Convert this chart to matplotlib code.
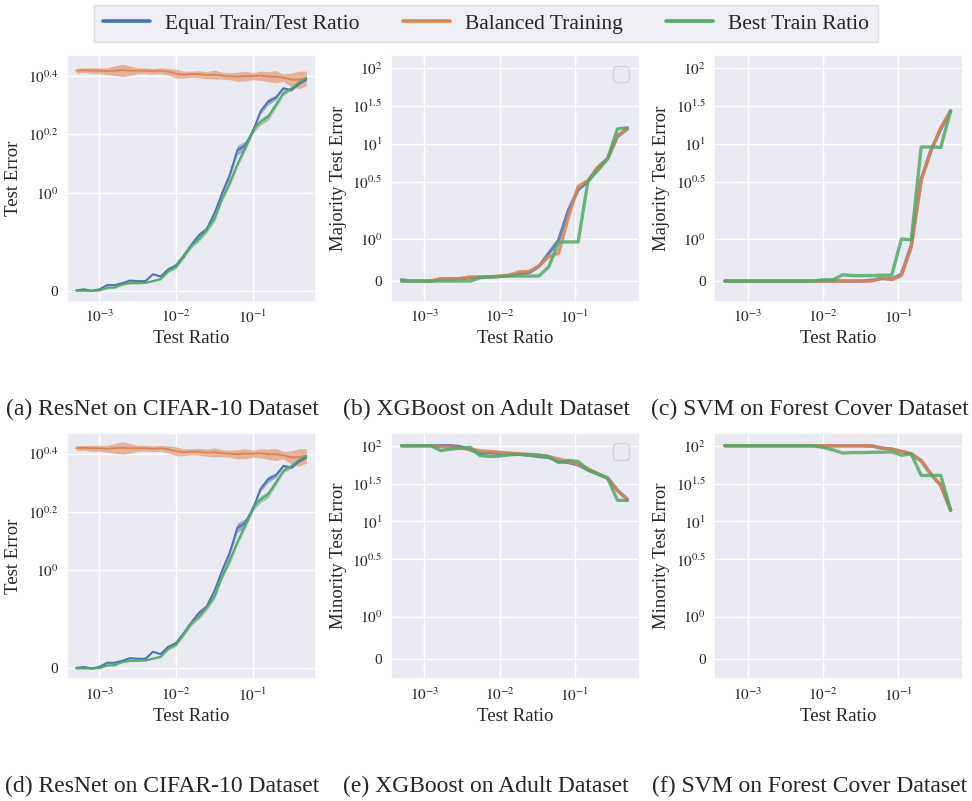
import matplotlib
matplotlib.use("Agg")
import numpy as np
import matplotlib.pyplot as plt
from matplotlib.lines import Line2D
import seaborn as sns

sns.set_theme(style="darkgrid")
plt.rcParams["font.family"] = ["Liberation Serif", "DejaVu Serif"]
plt.rcParams["mathtext.fontset"] = "stix"

COLORS = ["#4C72B0", "#DD8452", "#55A868"]
SERIES = ["Equal Train/Test Ratio", "Balanced Training", "Best Train Ratio"]

# --- ResNet on CIFAR-10 (mean test error + half width of the CI band) ---
resnet_ratio = [0.0005, 0.00063, 0.00079, 0.001, 0.00126, 0.00158, 0.002, 0.0025,
                0.0032, 0.004, 0.005, 0.0063, 0.0079, 0.01, 0.0126, 0.0158, 0.02,
                0.025, 0.032, 0.04, 0.05, 0.063, 0.079, 0.1, 0.126, 0.158, 0.2,
                0.25, 0.32, 0.4, 0.5]
resnet_equal = [0.005, 0.015, 0.0, 0.015, 0.058, 0.058, 0.078, 0.105, 0.099, 0.099,
                0.17, 0.146, 0.22, 0.26, 0.36, 0.47, 0.57, 0.63, 0.8, 1.0, 1.15,
                1.4, 1.45, 1.62, 1.9, 2.05, 2.12, 2.28, 2.25, 2.36, 2.44]
resnet_balanced = [2.62, 2.63, 2.62, 2.62, 2.61, 2.62, 2.63, 2.62, 2.62, 2.62, 2.61,
                   2.62, 2.6, 2.56, 2.54, 2.55, 2.55, 2.53, 2.54, 2.52, 2.51, 2.5,
                   2.51, 2.51, 2.52, 2.5, 2.5, 2.48, 2.44, 2.44, 2.47]
resnet_best = [0.0, 0.0, 0.0, 0.003, 0.03, 0.034, 0.065, 0.078, 0.078, 0.082, 0.1,
               0.12, 0.2, 0.245, 0.35, 0.46, 0.53, 0.62, 0.74, 0.94, 1.08, 1.25,
               1.42, 1.64, 1.75, 1.82, 2.0, 2.19, 2.28, 2.39, 2.47]
resnet_equal_ci = [0.01, 0.01, 0.01, 0.01, 0.01, 0.01, 0.01, 0.01, 0.01, 0.01, 0.01,
                   0.01, 0.01, 0.02, 0.02, 0.02, 0.02, 0.02, 0.02, 0.03, 0.03, 0.05,
                   0.05, 0.03, 0.04, 0.05, 0.04, 0.03, 0.02, 0.02, 0.02]
resnet_balanced_ci = [0.05, 0.05, 0.06, 0.06, 0.07, 0.1, 0.13, 0.1, 0.06, 0.06, 0.06,
                      0.06, 0.07, 0.09, 0.07, 0.06, 0.07, 0.07, 0.09, 0.07, 0.07, 0.09,
                      0.1, 0.07, 0.09, 0.1, 0.12, 0.07, 0.13, 0.17, 0.14]
resnet_best_ci = [0.008, 0.008, 0.008, 0.008, 0.01, 0.01, 0.01, 0.01, 0.01, 0.01, 0.01,
                  0.012, 0.015, 0.02, 0.02, 0.025, 0.025, 0.03, 0.03, 0.025, 0.03, 0.03,
                  0.035, 0.04, 0.045, 0.05, 0.05, 0.04, 0.03, 0.02, 0.02]

# --- XGBoost (Adult) and SVM (Forest Cover): majority / minority test error ---
tab_ratio = [0.0005, 0.00068, 0.00091, 0.00123, 0.00166, 0.00224, 0.00303, 0.00409,
             0.00552, 0.00746, 0.0101, 0.0136, 0.0184, 0.0248, 0.0335, 0.0452, 0.061,
             0.0824, 0.111, 0.15, 0.203, 0.274, 0.37, 0.5]

adult_maj_equal = [0.03, 0.0, 0.0, 0.0, 0.05, 0.05, 0.06, 0.08, 0.09, 0.1, 0.11, 0.13,
                   0.18, 0.2, 0.35, 0.66, 0.97, 1.68, 2.49, 3.2, 4.9, 6.4, 12.5, 15.8]
adult_maj_balanced = [0.0, 0.0, 0.0, 0.0, 0.06, 0.04, 0.06, 0.1, 0.1, 0.1, 0.12, 0.14,
                      0.22, 0.23, 0.36, 0.58, 0.66, 1.52, 2.76, 3.28, 4.95, 6.4, 12.9, 15.8]
adult_maj_best = [0.0, 0.0, 0.0, 0.0, 0.0, 0.0, 0.0, 0.0, 0.08, 0.1, 0.11, 0.12, 0.12,
                  0.12, 0.12, 0.34, 0.93, 0.93, 0.93, 3.24, 4.47, 6.4, 15.8, 16.3]

svm_maj_equal = [0.0, 0.0, 0.0, 0.0, 0.0, 0.0, 0.0, 0.0, 0.0, 0.0, 0.0, 0.0, 0.0, 0.0,
                 0.0, 0.02, 0.06, 0.05, 0.16, 0.85, 3.4, 8.3, 15.7, 27.3]
svm_maj_balanced = [0.0, 0.0, 0.0, 0.0, 0.0, 0.0, 0.0, 0.0, 0.0, 0.0, 0.0, 0.0, 0.0, 0.0,
                    0.0, 0.0, 0.08, 0.03, 0.13, 0.8, 3.27, 8.1, 16.4, 27.3]
svm_maj_best = [0.0, 0.0, 0.0, 0.0, 0.0, 0.0, 0.0, 0.0, 0.0, 0.0, 0.03, 0.03, 0.15, 0.13,
                0.13, 0.13, 0.14, 0.14, 1.0, 0.98, 9.1, 9.1, 9.0, 27.3]

adult_min_equal = [100, 100, 100, 100, 100, 100, 97, 88, 79, 81, 79, 78, 77, 75, 72,
                   70, 62, 60, 56, 48, 42, 37.4, 25.8, 19.5]
adult_min_balanced = [100, 100, 100, 100, 97, 95, 92, 90, 86, 84, 82, 80, 78, 77, 75,
                      72, 67, 62, 57.5, 50, 42.6, 37.4, 25.8, 19.5]
adult_min_best = [100, 100, 100, 100, 86, 90, 93, 95, 74, 72, 73, 76, 77, 76, 75, 72,
                  60, 64, 62, 48, 42.6, 37.4, 19, 19]

svm_min_equal = [100, 100, 100, 100, 100, 100, 100, 100, 100, 100, 100, 100, 100, 100,
                 100, 99, 93, 90, 84, 78, 63, 42, 30, 14.1]
svm_min_balanced = [100, 100, 100, 100, 100, 100, 100, 100, 100, 100, 100, 100, 100, 100,
                    100, 100, 93, 90, 84, 78, 63.6, 42.5, 30, 14.1]
svm_min_best = [100, 100, 100, 100, 100, 100, 100, 100, 100, 100, 95, 88, 80, 81, 81, 82,
                82, 83, 75, 78, 40.5, 40.5, 40.5, 14.1]

captions = ["(a) ResNet on CIFAR-10 Dataset", "(b) XGBoost on Adult Dataset",
            "(c) SVM on Forest Cover Dataset", "(d) ResNet on CIFAR-10 Dataset",
            "(e) XGBoost on Adult Dataset", "(f) SVM on Forest Cover Dataset"]

resnet_ticks = [0, 1, 10 ** 0.2, 10 ** 0.4]
resnet_ticklabels = ["0", "$10^{0}$", "$10^{0.2}$", "$10^{0.4}$"]
tab_ticks = [0, 1, 10 ** 0.5, 10, 10 ** 1.5, 100]
tab_ticklabels = ["0", "$10^{0}$", "$10^{0.5}$", "$10^{1}$", "$10^{1.5}$", "$10^{2}$"]

LABEL_FS = 13.5
TICK_FS = 11

fig = plt.figure(figsize=(9.72, 8.01), dpi=100)
lefts = [66.7 / 972, 390.7 / 972, 714 / 972]
bottoms = [(801 - 301.7) / 801, (801 - 679.3) / 801]
w, h = 249 / 972, 246.5 / 801

axes = [[fig.add_axes([l, b, w, h]) for l in lefts] for b in bottoms]


def style_common(ax, ylabel):
    ax.set_xscale("log")
    ax.set_xticks([1e-3, 1e-2, 1e-1])
    ax.set_xticklabels(["$10^{-3}$", "$10^{-2}$", "$10^{-1}$"])
    ax.xaxis.set_minor_locator(matplotlib.ticker.NullLocator())
    ax.set_xlabel("Test Ratio", fontsize=LABEL_FS, labelpad=3)
    ax.set_ylabel(ylabel, fontsize=LABEL_FS, labelpad=4)
    ax.tick_params(axis="x", labelsize=TICK_FS, pad=5, length=0)
    ax.tick_params(axis="y", labelsize=TICK_FS, pad=6, length=0)


def resnet_panel(ax):
    ys = [resnet_equal, resnet_balanced, resnet_best]
    cis = [resnet_equal_ci, resnet_balanced_ci, resnet_best_ci]
    x = np.array(resnet_ratio)
    for y, e, c in zip(ys, cis, COLORS):
        y, e = np.array(y), np.array(e)
        ax.fill_between(x, y - e, y + e, color=c, alpha=0.55, lw=0)
        ax.plot(x, y, color=c, lw=1.3)
    ax.set_yscale("symlog", linthresh=1, linscale=0.302)
    ax.set_yticks(resnet_ticks)
    ax.set_yticklabels(resnet_ticklabels)
    ax.yaxis.set_minor_locator(matplotlib.ticker.NullLocator())
    ax.set_ylim(-0.112, 2.96)
    ax.set_xlim(3.76e-4, 0.662)
    style_common(ax, "Test Error")


def tab_panel(ax, ys, ylabel, empty_legend=False):
    x = np.array(tab_ratio)
    for y, c in zip(ys, COLORS):
        ax.plot(x, y, color=c, lw=2.4, alpha=0.85)
    ax.set_yscale("symlog", linthresh=2, linscale=1)
    ax.set_yticks(tab_ticks)
    ax.set_yticklabels(tab_ticklabels)
    ax.yaxis.set_minor_locator(matplotlib.ticker.NullLocator())
    ax.set_ylim(-0.49, 148)
    ax.set_xlim(3.58e-4, 0.73)
    style_common(ax, ylabel)
    if empty_legend:
        # the original called legend() with nothing labelled: an empty box
        ax.legend(handles=[], loc="upper right", fontsize=15)


resnet_panel(axes[0][0])
tab_panel(axes[0][1], [adult_maj_equal, adult_maj_balanced, adult_maj_best],
          "Majority Test Error", empty_legend=True)
tab_panel(axes[0][2], [svm_maj_equal, svm_maj_balanced, svm_maj_best],
          "Majority Test Error")
resnet_panel(axes[1][0])
tab_panel(axes[1][1], [adult_min_equal, adult_min_balanced, adult_min_best],
          "Minority Test Error", empty_legend=True)
tab_panel(axes[1][2], [svm_min_equal, svm_min_balanced, svm_min_best],
          "Minority Test Error")

# sub-captions, centred in each third of the figure
for k, cap in enumerate(captions):
    row, col = divmod(k, 3)
    y = (801 - 409) / 801 if row == 0 else (801 - 786) / 801
    fig.text((col + 0.5) / 3, y, cap, ha="center", va="center", fontsize=17)

handles = [Line2D([], [], color=c, lw=2.6) for c in COLORS]
fig.legend(handles, SERIES, loc="upper center", bbox_to_anchor=(0.5, 1 - 5 / 801),
           borderaxespad=0, ncol=3, fontsize=15.5, handlelength=2.2,
           columnspacing=2.0, handletextpad=0.7, frameon=True, fancybox=False,
           edgecolor="0.85", borderpad=0.4)

fig.savefig("out.png", dpi=100)
